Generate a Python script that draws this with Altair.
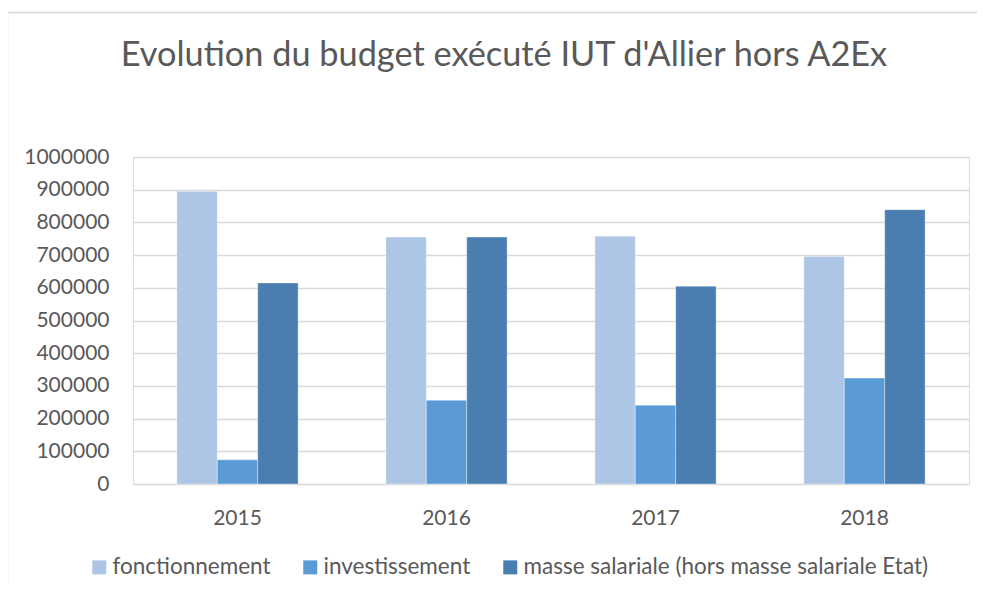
import altair as alt
import pandas as pd

years = ["2015", "2016", "2017", "2018"]
series = ["fonctionnement", "investissement", "masse salariale (hors masse salariale Etat)"]
fonctionnement = [895000, 755000, 758000, 696000]
investissement = [74000, 256000, 241000, 324000]
masse_salariale = [615000, 755000, 605000, 839000]
colors = ["#AEC6E5", "#5B9BD5", "#4A7EB0"]
y_ticks = list(range(0, 1000001, 100000))
title_text = "Evolution du budget exécuté IUT d'Allier hors A2Ex"

rows = []
for i, y in enumerate(years):
    for s, vals in zip(series, [fonctionnement, investissement, masse_salariale]):
        rows.append({"year": y, "serie": s, "value": vals[i]})
df = pd.DataFrame(rows)

FONT = "Lato"
TXT = "#595959"

bars = alt.Chart(df).mark_bar(stroke="white", strokeWidth=0.6, strokeOpacity=0.6).encode(
    x=alt.X("year:N", sort=years, title=None,
            scale=alt.Scale(paddingInner=0.42, paddingOuter=0.21),
            axis=alt.Axis(labelAngle=0, ticks=False, domain=False, labelPadding=23,
                          labelFontSize=21, labelFont=FONT, labelColor=TXT)),
    xOffset=alt.XOffset("serie:N", sort=series, scale=alt.Scale(paddingInner=0, paddingOuter=0)),
    y=alt.Y("value:Q", title=None,
            scale=alt.Scale(domain=[0, 1000000], nice=False),
            axis=alt.Axis(values=y_ticks, format="d", ticks=False, domain=False,
                          labelPadding=24, labelFontSize=21, labelFont=FONT, labelColor=TXT,
                          gridColor="#D9D9D9", gridWidth=1.5)),
    color=alt.Color("serie:N", sort=series, title=None,
                    scale=alt.Scale(domain=series, range=colors),
                    legend=alt.Legend(orient="none", direction="horizontal",
                                      legendX=-45, legendY=399,
                                      symbolType="square", symbolSize=196,
                                      symbolStrokeWidth=0, symbolOpacity=1,
                                      labelFontSize=22.5, labelFont=FONT, labelColor=TXT,
                                      labelOffset=2, columnPadding=28, labelLimit=600)),
)

border = alt.Chart(alt.Data(values=[{}])).mark_rect(
    fill=None, stroke="#D9D9D9", strokeWidth=1.5
).encode(
    x=alt.value(-125.5), x2=alt.value(900),
    y=alt.value(-144.5), y2=alt.value(460),
)

title = alt.Chart(alt.Data(values=[{"t": title_text}])).mark_text(
    font=FONT, fontSize=34.3, color=TXT, align="center", baseline="alphabetic"
).encode(
    text="t:N", x=alt.value(371), y=alt.value(-91),
)

chart = alt.layer(border, title, bars).properties(
    width=836,
    height=327,
    autosize=alt.AutoSizeParams(type="none"),
    padding={"left": 125, "top": 149, "right": 8, "bottom": 100},
).configure_view(stroke=None).configure(background="white")

chart.save("out.html", embed_options={"renderer": "svg", "actions": False})
